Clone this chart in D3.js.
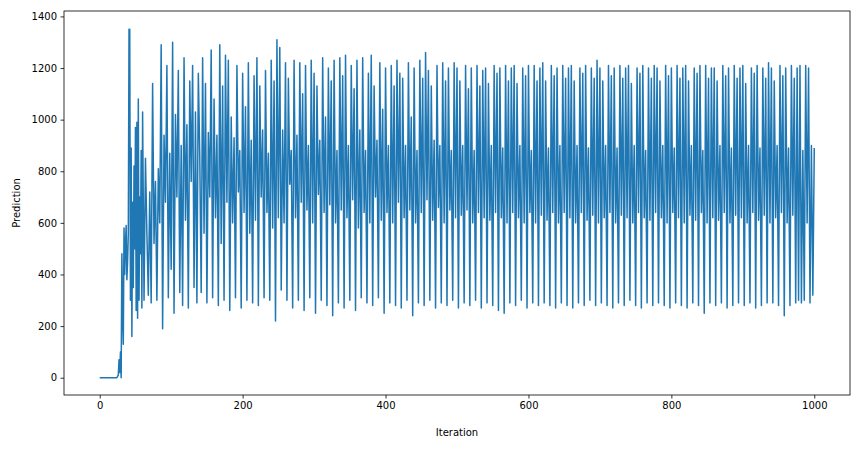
<!DOCTYPE html>
<html lang="en">
<head>
<meta charset="UTF-8">
<title>Prediction</title>
<style>
  body { margin: 0; background: #fff; }
  text { font-family: "DejaVu Sans", sans-serif; }
</style>
</head>
<body>
<svg id="chart" width="859" height="449"></svg>
<script src="https://d3js.org/d3.v7.min.js"></script>
<script>
// early iterations 0..59 (step 1)
var earlyValues = [
  0,0,0,0,0,0,0,0,0,0,0,0,0,0,0,0,0,0,0,0,0,0,0,0,0,
  5,10,70,20,100,0,480,250,130,580,400,520,590,380,450,
  560,1350,1350,300,890,160,680,350,820,500,970,260,990,230,1080,300,700,480,880,270
];
// iterations 60..1000 (step 2)
var laterValues = [
  1030,300,850,560,320,720,290,1140,520,760,300,810,600,1290,190,940,680,1210,310,870,
  420,1300,250,1020,700,1190,330,900,280,1240,610,980,270,1150,760,1210,350,1030,290,1180,
  860,330,1240,560,1140,290,950,700,1270,310,1080,620,940,280,1290,520,1130,300,1250,680,
  1230,260,1010,600,930,310,1210,720,880,270,1180,640,1050,300,1220,560,920,290,1170,610,
  1240,280,1130,700,960,310,1190,640,870,300,1230,580,1150,220,1310,620,1280,340,960,600,
  1220,300,1160,750,880,270,1230,620,940,300,1220,680,1100,260,1210,650,900,310,1230,600,
  1180,250,1130,710,920,300,1240,640,1010,280,1200,670,1150,240,1230,600,880,290,1240,650,
  1170,270,1250,620,900,300,1210,690,1120,260,1230,580,960,310,1240,640,880,290,1180,600,
  1250,280,1130,700,920,310,1220,610,1040,250,1200,640,900,290,1210,600,1130,280,1230,680,
  1180,270,1160,620,900,300,1220,650,1010,240,1200,600,880,290,1230,640,1160,280,1260,690,
  1190,300,1130,610,920,270,1210,660,900,290,1220,600,1150,280,1200,650,880,300,1220,620,
  1200,270,1150,630,900,290,1210,650,1120,280,1200,600,880,300,1210,640,1130,270,1190,620,
  1200,290,1140,610,900,280,1210,640,1180,260,1200,620,890,250,1210,600,1150,290,1200,640,
  1210,280,1140,620,900,300,1200,600,1170,270,1210,640,880,290,1210,600,1150,280,1200,630,
  1220,290,1150,610,890,280,1210,640,1170,270,1200,600,900,290,1210,640,1160,280,1200,620,
  1210,270,1150,600,900,290,1200,640,1180,280,1210,610,890,300,1200,630,1160,280,1230,600,
  1200,290,1150,620,900,280,1210,640,1170,270,1200,600,890,290,1210,630,1160,280,1200,620,
  1210,300,1140,600,900,280,1200,640,1180,270,1210,620,880,290,1200,610,1160,280,1210,640,
  1200,290,1150,620,900,280,1210,600,1170,270,1200,640,890,290,1210,620,1160,280,1200,600,
  1210,270,1150,630,900,290,1200,610,1180,280,1210,640,880,250,1210,600,1160,290,1200,620,
  1200,280,1150,610,900,290,1210,640,1170,270,1200,600,890,280,1210,630,1160,290,1200,620,
  1210,280,1140,600,900,290,1200,640,1180,270,1210,610,890,280,1200,630,1160,290,1220,600,
  1200,290,1150,620,900,280,1210,640,1170,240,1200,600,890,280,1210,630,1160,290,1200,300,
  1210,290,880,300,1210,600,1200,290,900,320,890
];
var xTicks = [0, 200, 400, 600, 800, 1000];
var yTicks = [0, 200, 400, 600, 800, 1000, 1200, 1400];

var data = earlyValues.map(function (v, i) { return { x: i, y: v }; })
  .concat(laterValues.map(function (v, i) { return { x: 60 + i * 2, y: v }; }));

var svg = d3.select("#chart");
var mLeft = 64, mRight = 850, mTop = 11, mBottom = 395;

var xScale = d3.scaleLinear().domain([-50, 1050]).range([mLeft, mRight]);
var yScale = d3.scaleLinear().domain([-67, 1421]).range([mBottom, mTop]);

svg.append("path")
  .datum(data)
  .attr("fill", "none")
  .attr("stroke", "#1f77b4")
  .attr("stroke-width", 1.5)
  .attr("stroke-linejoin", "round")
  .attr("d", d3.line().x(d => xScale(d.x)).y(d => yScale(d.y)));

// axes
var xAxis = svg.append("g")
  .attr("transform", "translate(0," + mBottom + ")")
  .call(d3.axisBottom(xScale).tickValues(xTicks).tickFormat(d3.format("d")).tickSize(3.5).tickPadding(3.5));
var yAxis = svg.append("g")
  .attr("transform", "translate(" + mLeft + ",0)")
  .call(d3.axisLeft(yScale).tickValues(yTicks).tickFormat(d3.format("d")).tickSize(3.5).tickPadding(3.5));
[xAxis, yAxis].forEach(function (g) {
  g.select(".domain").remove();
  g.selectAll("text").attr("font-size", 10).attr("fill", "#000").style("font-family", "DejaVu Sans");
  g.selectAll("line").attr("stroke", "#000").attr("stroke-width", 0.8);
});

// frame
svg.append("rect")
  .attr("x", mLeft).attr("y", mTop)
  .attr("width", mRight - mLeft).attr("height", mBottom - mTop)
  .attr("fill", "none").attr("stroke", "#000").attr("stroke-width", 0.8);

svg.append("text")
  .attr("x", (mLeft + mRight) / 2).attr("y", 436)
  .attr("text-anchor", "middle").attr("font-size", 10)
  .text("Iteration");
svg.append("text")
  .attr("transform", "translate(20," + ((mTop + mBottom) / 2) + ") rotate(-90)")
  .attr("text-anchor", "middle").attr("font-size", 10)
  .text("Prediction");
</script>
</body>
</html>
